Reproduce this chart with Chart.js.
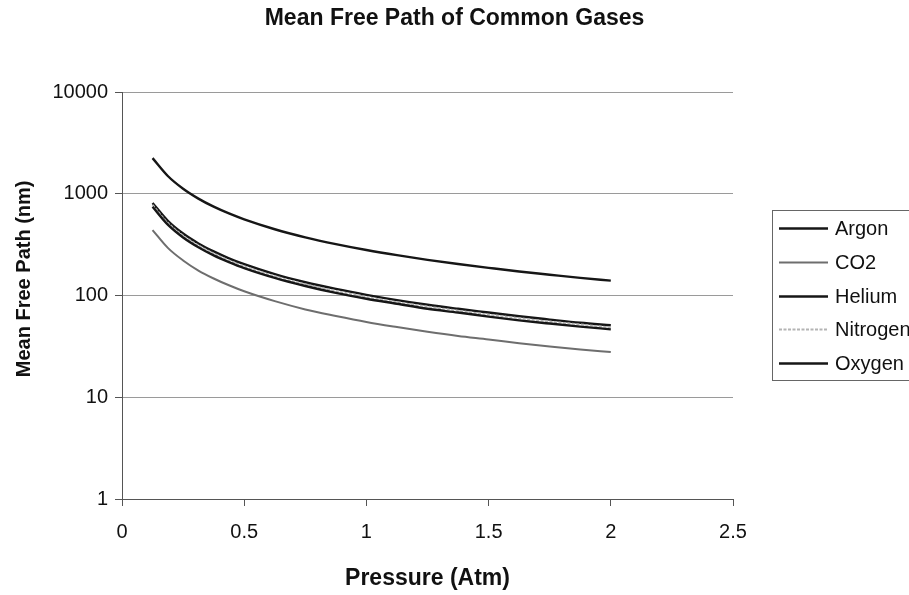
<!DOCTYPE html>
<html>
<head>
<meta charset="utf-8">
<script src="https://cdn.jsdelivr.net/npm/chart.js@4/dist/chart.umd.min.js"></script>
<style>
  html, body { margin: 0; padding: 0; background: #fff; }
  #wrap { width: 909px; height: 595px; position: relative; }
</style>
</head>
<body>
<div id="wrap"><canvas id="c" width="909" height="595"></canvas></div>
<script>
// ---- data ----
const pressures = [0.125, 0.1875, 0.25, 0.3125, 0.375, 0.4375, 0.5, 0.625, 0.75, 0.875, 1, 1.125, 1.25, 1.375, 1.5, 1.625, 1.75, 1.875, 2];
const argon    = [745, 497, 372, 298, 248, 213, 186, 149, 124, 106, 93, 83, 74, 68, 62, 57, 53, 49.5, 46.5];
const co2      = [440, 294, 221, 176, 147, 126, 110, 88, 73, 63, 55, 49, 44, 40, 37, 34, 31.5, 29.5, 27.8];
const helium   = [2240, 1495, 1120, 896, 746, 640, 560, 448, 373, 320, 280, 249, 224, 204, 187, 172, 160, 149, 140];
const nitrogen = [778, 519, 389, 311, 259, 222, 194, 155, 129, 111, 97, 86, 78, 71, 65, 60, 55.5, 52, 48.5];
const oxygen   = [812, 542, 406, 325, 271, 232, 203, 162, 135, 116, 101.5, 90, 81, 74, 68, 62.5, 58, 54, 51];
const yTickValues = [1, 10, 100, 1000, 10000];
const xTickValues = [0, 0.5, 1, 1.5, 2, 2.5];
const seriesNames = ['Argon', 'CO2', 'Helium', 'Nitrogen', 'Oxygen'];
const chartTitle = 'Mean Free Path of Common Gases';
const xTitle = 'Pressure (Atm)';
const yTitle = 'Mean Free Path (nm)';

const FONT = '"Liberation Sans", Arial, Helvetica, sans-serif';
const seriesValues = [argon, co2, helium, nitrogen, oxygen];
const styles = [
  { color: '#161616', width: 2.4, dash: [] },
  { color: '#6e6e6e', width: 2.0, dash: [] },
  { color: '#161616', width: 2.4, dash: [] },
  { color: '#b4b4b4', width: 1.8, dash: [3, 1.5] },
  { color: '#161616', width: 2.4, dash: [] }
];

const datasets = seriesNames.map((name, i) => ({
  label: name,
  data: pressures.map((p, j) => ({ x: p, y: seriesValues[i][j] })),
  borderColor: styles[i].color,
  borderWidth: styles[i].width,
  borderDash: styles[i].dash,
  pointRadius: 0,
  fill: false,
  cubicInterpolationMode: 'monotone',
  yAxisID: 'y'
}));

// custom boxed legend on the right (cut by the canvas edge like the reference)
const boxLegend = {
  id: 'boxLegend',
  afterDraw(chart) {
    const ctx = chart.ctx;
    ctx.save();
    const left = 772, top = 210, bottom = 380;
    ctx.strokeStyle = '#666';
    ctx.lineWidth = 1;
    ctx.strokeRect(left + 0.5, top + 0.5, 200, bottom - top);
    const rowY0 = 228, rowStep = 33.8;
    chart.data.datasets.forEach((ds, i) => {
      const y = Math.round(rowY0 + i * rowStep) + 0.5;
      ctx.beginPath();
      ctx.strokeStyle = ds.borderColor;
      ctx.lineWidth = ds.borderWidth;
      ctx.setLineDash(ds.borderDash || []);
      ctx.moveTo(779, y);
      ctx.lineTo(828, y);
      ctx.stroke();
      ctx.setLineDash([]);
      ctx.fillStyle = '#111';
      ctx.font = '20px ' + FONT;
      ctx.textBaseline = 'middle';
      ctx.textAlign = 'left';
      ctx.fillText(ds.label, 835, y + 1);
    });
    ctx.restore();
  }
};

new Chart(document.getElementById('c'), {
  type: 'line',
  data: { datasets },
  plugins: [boxLegend],
  options: {
    responsive: false,
    animation: false,
    layout: { padding: 0 },
    plugins: {
      legend: { display: false },
      tooltip: { enabled: false },
      title: {
        display: true,
        text: chartTitle,
        color: '#111',
        font: { family: FONT, size: 23, weight: 'bold' },
        padding: { top: 5, bottom: 59.4 }
      }
    },
    scales: {
      x: {
        type: 'linear',
        min: 0, max: 2.5,
        afterBuildTicks: (s) => { s.ticks = xTickValues.map(v => ({ value: v })); },
        afterFit: (s) => { s.height = 96; },
        ticks: {
          color: '#111',
          font: { family: FONT, size: 20 },
          padding: 14,
          maxRotation: 0,
          callback: (v) => String(v)
        },
        grid: { drawOnChartArea: false, drawTicks: true, tickLength: 7, tickColor: '#555' },
        border: { color: '#555', width: 1 },
        title: {
          display: true,
          text: xTitle,
          color: '#111',
          font: { family: FONT, size: 23, weight: 'bold' },
          padding: { top: 0, bottom: 3 }
        }
      },
      y: {
        type: 'logarithmic',
        position: 'left',
        min: 1, max: 10000,
        afterBuildTicks: (s) => { s.ticks = yTickValues.map(v => ({ value: v })); },
        afterFit: (s) => { s.width = 122; },
        ticks: {
          color: '#111',
          font: { family: FONT, size: 20 },
          padding: 7,
          autoSkip: false,
          callback: (v) => String(v)
        },
        grid: { color: '#9a9a9a', lineWidth: 1, drawTicks: true, tickLength: 7, tickColor: '#555' },
        border: { color: '#555', width: 1 },
        title: {
          display: true,
          text: '      ' + yTitle,
          color: '#111',
          font: { family: FONT, size: 20, weight: 'bold' },
          padding: { top: 12, bottom: 0 }
        }
      },
      spacer: {
        type: 'linear',
        position: 'right',
        display: true,
        afterFit: (s) => { s.width = 176; },
        ticks: { display: false },
        grid: { display: false, drawTicks: false },
        border: { display: false }
      }
    }
  }
});
</script>
</body>
</html>
